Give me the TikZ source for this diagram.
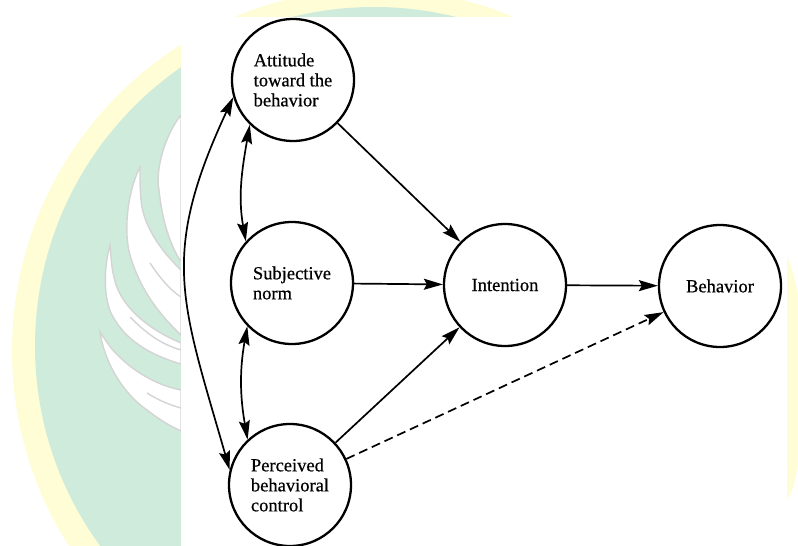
\documentclass[tikz,border=0pt]{standalone}
\usepackage{fontspec}
\setmainfont{Liberation Serif}
\newfontfamily\labelfont{Liberation Serif}[FakeBold=0.6]
\usetikzlibrary{arrows.meta}

\definecolor{ringyellow}{HTML}{FFFDD6}
\definecolor{sealgreen}{HTML}{CEEBDC}
\definecolor{leafgray}{HTML}{D4D4D4}

\tikzset{
  concept/.style={circle, draw=black, line width=2.3pt, minimum size=122pt,
    inner sep=0pt, align=left, font=\labelfont\fontsize{18.5}{20}\selectfont},
  head/.tip={Stealth[length=19pt, width=11pt, inset=3pt]},
  link/.style={line width=1.7pt, -head},
  pairlink/.style={line width=1.7pt, head-head},
  leaf/.style={fill=white, draw=leafgray, line width=1.4pt},
  vein/.style={draw=leafgray, line width=1.4pt},
}

\begin{document}
\begin{tikzpicture}[x=1pt, y=1pt]
\useasboundingbox (0,0) rectangle (798,-546);
\clip (0,0) rectangle (798,-546);

% faded seal in the background
\fill[ringyellow] (374,-351) circle (362);
\fill[sealgreen] (374,-346) circle (339);

% feather strokes of the seal
\path[leaf] (181,-115) .. controls (165,-135) and (155,-170) .. (159,-190)
  .. controls (162,-220) and (170,-245) .. (181,-262) -- cycle;
\path[leaf] (140,-167) .. controls (126,-195) and (124,-235) .. (130,-255)
  .. controls (140,-290) and (160,-315) .. (181,-335)
  -- (181,-270) .. controls (160,-250) and (143,-225) .. (141,-200)
  .. controls (140,-185) .. (140,-167) -- cycle;
\draw[vein] (150,-263) .. controls (160,-278) and (170,-290) .. (181,-297);
\path[leaf] (110,-245) .. controls (103,-270) and (104,-300) .. (112,-315)
  .. controls (125,-340) and (150,-355) .. (181,-364)
  -- (181,-343) .. controls (150,-330) and (125,-310) .. (116,-285)
  .. controls (112,-270) .. (110,-245) -- cycle;
\draw[vein] (130,-317) .. controls (145,-332) and (160,-344) .. (181,-350);
\path[leaf] (100,-332) .. controls (105,-365) and (125,-395) .. (147,-410)
  .. controls (160,-420) and (170,-426) .. (181,-431)
  -- (181,-390) .. controls (160,-386) and (140,-375) .. (125,-362)
  .. controls (112,-350) .. (100,-332) -- cycle;
\draw[vein] (147,-393) .. controls (158,-400) and (170,-405) .. (181,-408);

% white sheet carrying the diagram
\fill[white] (181,-17) rectangle (787,-560);
\fill[ringyellow] (787,-257) .. controls (794,-272) and (798,-290) .. (798,-300)
  -- (798,-460) .. controls (797,-478) and (793,-490) .. (787,-500) -- cycle;

% concepts
\node[concept] (att) at (293,-80)  {Attitude\\toward the\\behavior};
\node[concept] (sub) at (292,-283) {Subjective\\norm};
\node[concept] (per) at (290,-485) {Perceived\\behavioral\\control};
\node[concept] (int) at (505,-285) {Intention};
\node[concept] (beh) at (720,-286) {Behavior};

% direct paths
\draw[link] (att) -- (int);
\draw[link] (sub) -- (int);
\draw[link] (per) -- (int);
\draw[link] (int) -- (beh);
\draw[link, dash pattern=on 9pt off 5pt] (per) -- (beh);

% correlations among the antecedents
\draw[pairlink] (att.-134) to[out=-100, in=100] (sub.138);
\draw[pairlink] (sub.-136) to[out=-100, in=100] (per.133);
\draw[pairlink] (att.196) to[out=-115, in=106, looseness=1.2] (per.166);
\end{tikzpicture}
\end{document}
